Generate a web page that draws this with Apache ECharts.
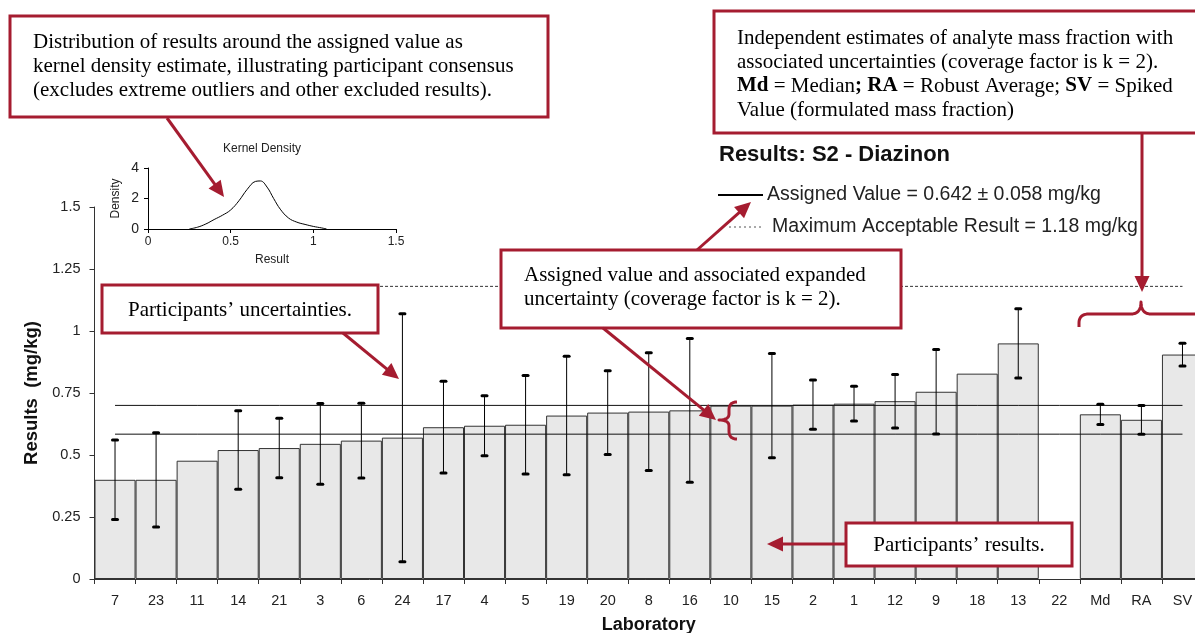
<!DOCTYPE html>
<html><head><meta charset="utf-8">
<script src="https://cdn.jsdelivr.net/npm/echarts@6/dist/echarts.min.js"></script>
<style>html,body{margin:0;padding:0;background:#fff}#c{width:1195px;height:633px}</style>
</head><body><div id="c"></div>
<script>
// ---- data ----
const labs = ['7','23','11','14','21','3','6','24','17','4','5','19','20','8','16','10','15','2','1','12','9','18','13','22','Md','RA','SV'];
const results = [0.40,0.40,0.477,0.52,0.528,0.545,0.558,0.570,0.612,0.618,0.622,0.659,0.671,0.675,0.680,0.699,0.699,0.703,0.707,0.717,0.755,0.828,0.950,null,0.664,0.642,0.905];
const uncert = [0.16,0.19,null,0.158,0.12,0.163,0.151,0.50,0.185,0.121,0.199,0.239,0.169,0.237,0.29,null,0.21,0.099,0.07,0.108,0.17,null,0.14,null,0.041,0.058,0.046];
const assignedValue = 0.642;
const assignedU = 0.058;
const maxAcceptable = 1.18;
const yTicks = [0, 0.25, 0.5, 0.75, 1, 1.25, 1.5];
const kdeX = [0.25,0.30,0.35,0.40,0.45,0.50,0.55,0.60,0.65,0.68,0.72,0.76,0.80,0.85,0.90,0.95,1.00,1.05,1.08];
const kdeD = [0,0.12,0.33,0.62,0.90,1.25,1.85,2.6,3.12,3.15,2.75,2.0,1.3,0.72,0.45,0.3,0.17,0.07,0];
const kdeXTicks = [0, 0.5, 1, 1.5];
const kdeYTicks = [0, 2, 4];

const SANS = '"Liberation Sans", Arial, sans-serif';
const SERIF = '"Liberation Serif", "Times New Roman", serif';
const RED = '#a51c30';

const errData = [];
labs.forEach((l, i) => { if (uncert[i] != null && results[i] != null) errData.push([i, results[i], uncert[i]]); });

function arrow(x1, y1, x2, y2, head = 16, w = 15) {
  const dx = x2 - x1, dy = y2 - y1, L = Math.hypot(dx, dy), ux = dx / L, uy = dy / L;
  const bx = x2 - ux * head, by = y2 - uy * head;
  return [
    { type: 'line', z: 100, shape: { x1, y1, x2: bx + ux * 2, y2: by + uy * 2 }, style: { stroke: RED, lineWidth: 3 } },
    { type: 'polygon', z: 100, shape: { points: [[x2, y2], [bx - uy * w / 2, by + ux * w / 2], [bx + uy * w / 2, by - ux * w / 2]] }, style: { fill: RED } }
  ];
}
function box(x, y, w, h) {
  return { type: 'rect', z: 99, shape: { x, y, width: w, height: h }, style: { fill: '#fff', stroke: RED, lineWidth: 3 } };
}
function txt(x, y, text, opt = {}) {
  return { type: 'text', z: 101, x, y, style: Object.assign({ text, fontFamily: SERIF, fontSize: 21, fill: '#000', align: 'left', verticalAlign: 'middle' }, opt) };
}
// brace path from segments: ['L',x,y] or ['Q',cx,cy,x,y]
function bracePts(start, segs) {
  const pts = [start.slice()];
  let cur = start.slice();
  segs.forEach(s => {
    if (s[0] === 'L') { cur = [s[1], s[2]]; pts.push(cur); }
    else {
      const c = [s[1], s[2]], e = [s[3], s[4]];
      for (let k = 1; k <= 10; k++) {
        const t = k / 10, a = (1 - t) * (1 - t), b = 2 * (1 - t) * t, d = t * t;
        pts.push([a * cur[0] + b * c[0] + d * e[0], a * cur[1] + b * c[1] + d * e[1]]);
      }
      cur = e;
    }
  });
  return { type: 'polyline', z: 100, shape: { points: pts }, style: { stroke: RED, lineWidth: 3, fill: null, lineJoin: 'round' } };
}

const graphics = [
  // legend
  { type: 'line', shape: { x1: 718, y1: 195, x2: 763, y2: 195 }, style: { stroke: '#000', lineWidth: 2 } },
  { type: 'text', x: 767, y: 195, style: { text: 'Assigned Value = ' + assignedValue.toFixed(3) + ' ± ' + assignedU.toFixed(3) + ' mg/kg', fontFamily: SANS, fontSize: 19.5, fill: '#222', verticalAlign: 'middle' } },
  { type: 'line', shape: { x1: 729, y1: 227, x2: 763, y2: 227 }, style: { stroke: '#555', lineWidth: 1, lineDash: [2, 3] } },
  { type: 'text', x: 772, y: 227, style: { text: 'Maximum Acceptable Result = ' + maxAcceptable.toFixed(2) + ' mg/kg', fontFamily: SANS, fontSize: 19.5, fill: '#222', verticalAlign: 'middle' } },
  // KDE title
  { type: 'text', x: 262, y: 149, style: { text: 'Kernel Density', fontFamily: SANS, fontSize: 12, fill: '#222', align: 'center', verticalAlign: 'middle' } },
  // box 1
  box(10, 16, 538, 101),
  txt(33, 42, 'Distribution of results around the assigned value as'),
  txt(33, 66, 'kernel density estimate, illustrating participant consensus'),
  txt(33, 90, '(excludes extreme outliers and other excluded results).'),
  ...arrow(167, 118, 224, 197),
  // box 2
  box(714, 11, 500, 122),
  txt(737, 38, 'Independent estimates of analyte mass fraction with'),
  txt(737, 62, 'associated uncertainties (coverage factor is k = 2).'),
  txt(737, 86, '{b|Md} = Median{b|;} {b|RA} = Robust Average; {b|SV} = Spiked', { rich: { b: { fontFamily: SERIF, fontSize: 21, fontWeight: 'bold', fill: '#000' } } }),
  txt(737, 110, 'Value (formulated mass fraction)'),
  ...arrow(1142, 133, 1142, 292),
  bracePts([1079, 327], [['L', 1079, 323], ['Q', 1079, 314, 1089, 314], ['L', 1131, 314], ['Q', 1141, 314, 1141, 302], ['Q', 1141, 314, 1151, 314], ['L', 1200, 314]]),
  // box 3
  box(102, 285, 276, 48),
  txt(240, 310, 'Participants’ uncertainties.', { align: 'center' }),
  ...arrow(343, 333, 399, 379),
  // box 4
  box(501, 250, 400, 78),
  txt(524, 275, 'Assigned value and associated expanded'),
  txt(524, 299, 'uncertainty (coverage factor is k = 2).'),
  ...arrow(697, 250, 751, 202),
  ...arrow(603, 328, 716, 420),
  bracePts([737, 402], [['Q', 729, 402, 729, 410], ['L', 729, 414], ['Q', 729, 420, 719, 420], ['Q', 729, 420, 729, 426], ['L', 729, 431], ['Q', 729, 439, 737, 439]]),
  // box 5
  box(846, 523, 226, 43),
  txt(959, 545, 'Participants’ results.', { align: 'center' }),
  ...arrow(846, 544, 767, 544)
];

const chart = echarts.init(document.getElementById('c'), null, { renderer: 'canvas' });
chart.setOption({
  animation: false,
  backgroundColor: '#fff',
  title: { text: 'Results: S2 - Diazinon', left: 714, top: 139, textStyle: { fontFamily: SANS, fontWeight: 'bold', fontSize: 22, color: '#111' } },
  grid: [
    { left: 94.5, top: 207, right: -8, bottom: 54, containLabel: false, outerBoundsMode: 'none' },
    { left: 148, top: 168, width: 248, height: 61, containLabel: false, outerBoundsMode: 'none' }
  ],
  xAxis: [
    {
      type: 'category', data: labs, gridIndex: 0, boundaryGap: true,
      axisLine: { lineStyle: { color: '#333', width: 1 } },
      axisTick: { show: true, length: 5, interval: 0, lineStyle: { color: '#333' } },
      axisLabel: { interval: 0, fontFamily: SANS, fontSize: 14.5, color: '#222', margin: 14 },
      name: 'Laboratory', nameLocation: 'middle', nameGap: 37,
      nameTextStyle: { fontFamily: SANS, fontWeight: 'bold', fontSize: 18, color: '#111' }
    },
    {
      type: 'value', gridIndex: 1, min: 0, max: 1.5, interval: 0.5,
      axisLine: { lineStyle: { color: '#000' } },
      axisTick: { show: true, length: 4, lineStyle: { color: '#000' } },
      splitLine: { show: false },
      axisLabel: { fontFamily: SANS, fontSize: 12, color: '#222', margin: 7, formatter: v => kdeXTicks.includes(v) ? String(v) : '' },
      name: 'Result', nameLocation: 'middle', nameGap: 25,
      nameTextStyle: { fontFamily: SANS, fontSize: 12, color: '#222' }
    }
  ],
  yAxis: [
    {
      type: 'value', gridIndex: 0, min: 0, max: 1.5, interval: 0.25,
      axisLine: { show: true, lineStyle: { color: '#333', width: 1 } },
      axisTick: { show: true, length: 5, lineStyle: { color: '#333' } },
      splitLine: { show: false },
      axisLabel: { fontFamily: SANS, fontSize: 14.5, color: '#222', margin: 14, formatter: v => yTicks.includes(v) ? String(v) : '' },
      name: 'Results  (mg/kg)', nameLocation: 'middle', nameGap: 46,
      nameTextStyle: { fontFamily: SANS, fontWeight: 'bold', fontSize: 18.5, color: '#111' }
    },
    {
      type: 'value', gridIndex: 1, min: 0, max: 4, interval: 2,
      axisLine: { show: true, lineStyle: { color: '#000' } },
      axisTick: { show: true, length: 4, lineStyle: { color: '#000' } },
      splitLine: { show: false },
      axisLabel: { fontFamily: SANS, fontSize: 14, color: '#222', margin: 9, formatter: v => kdeYTicks.includes(v) ? String(v) : '' },
      name: 'Density', nameLocation: 'middle', nameGap: 26,
      nameTextStyle: { fontFamily: SANS, fontSize: 12, color: '#222' }
    }
  ],
  series: [
    {
      type: 'bar', xAxisIndex: 0, yAxisIndex: 0, data: results, barCategoryGap: '0%', barGap: '0%',
      itemStyle: { color: '#e8e8e8', borderColor: '#333', borderWidth: 1 }, z: 2
    },
    {
      type: 'line', xAxisIndex: 0, yAxisIndex: 0, data: labs.map(() => +(assignedValue + assignedU).toFixed(3)),
      symbol: 'none', lineStyle: { color: '#111', width: 1 }, z: 3
    },
    {
      type: 'line', xAxisIndex: 0, yAxisIndex: 0, data: labs.map(() => +(assignedValue - assignedU).toFixed(3)),
      symbol: 'none', lineStyle: { color: '#111', width: 1 }, z: 3
    },
    {
      type: 'line', xAxisIndex: 0, yAxisIndex: 0, data: labs.map(() => maxAcceptable),
      symbol: 'none', lineStyle: { color: '#333', width: 1, type: [3, 2] }, z: 3
    },
    {
      type: 'custom', xAxisIndex: 0, yAxisIndex: 0, data: errData, z: 4,
      renderItem: function (params, api) {
        const i = api.value(0), v = api.value(1), u = api.value(2);
        const t = api.coord([i, v + u]), b = api.coord([i, v - u]);
        const cap = p => ({ type: 'rect', shape: { x: p[0] - 4, y: p[1] - 1.5, width: 8, height: 3, r: 1.5 }, style: { fill: '#000' } });
        return { type: 'group', children: [
          { type: 'line', shape: { x1: t[0], y1: t[1], x2: b[0], y2: b[1] }, style: { stroke: '#000', lineWidth: 1 } },
          cap(t), cap(b)
        ] };
      }
    },
    {
      type: 'line', xAxisIndex: 1, yAxisIndex: 1, data: kdeX.map((x, i) => [x, kdeD[i]]),
      smooth: 0.4, symbol: 'none', lineStyle: { color: '#000', width: 1 }
    }
  ],
  graphic: graphics
});
</script>
</body></html>
